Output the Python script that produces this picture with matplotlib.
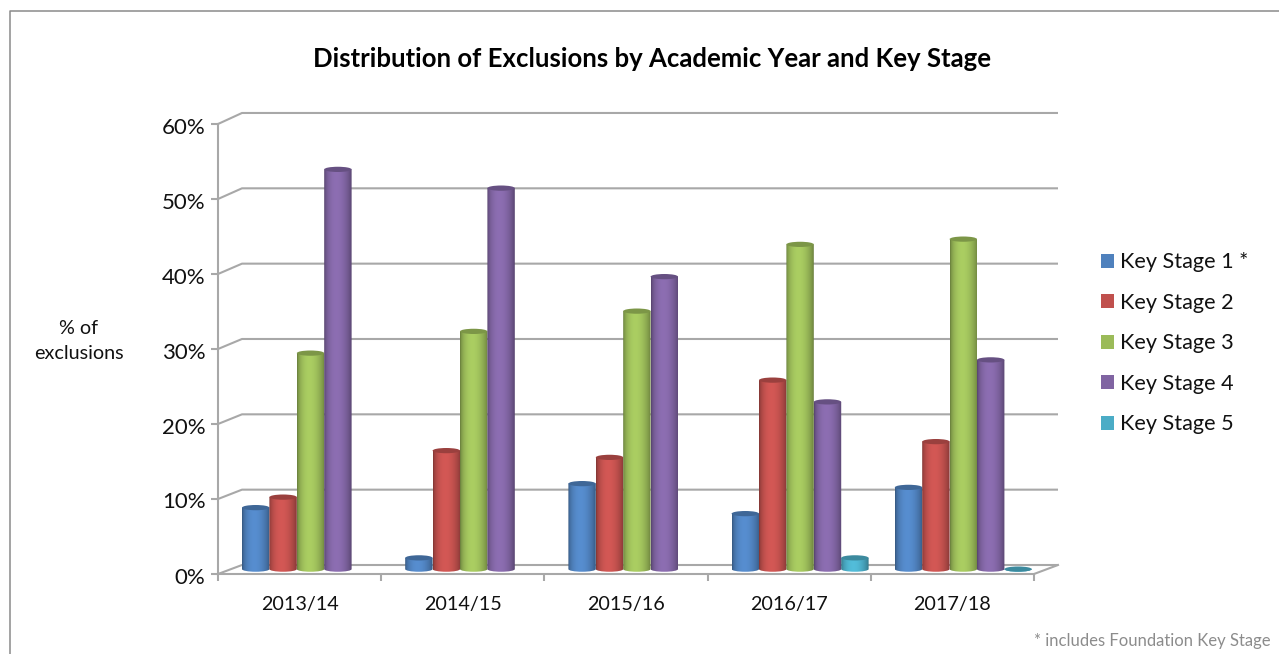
import numpy as np
import matplotlib
matplotlib.use("Agg")
from matplotlib import pyplot as plt
from matplotlib.colors import to_rgb
from matplotlib.lines import Line2D
from matplotlib.patches import Ellipse, Patch, PathPatch
from matplotlib.path import Path
from matplotlib.transforms import ScaledTranslation

years = ["2013/14", "2014/15", "2015/16", "2016/17", "2017/18"]
stages = ["Key Stage 1 *", "Key Stage 2", "Key Stage 3", "Key Stage 4", "Key Stage 5"]
ks1 = [8.2, 1.5, 11.4, 7.4, 10.9]
ks2 = [9.6, 15.8, 14.9, 25.2, 17.0]
ks3 = [28.8, 31.7, 34.4, 43.3, 44.0]
ks4 = [53.3, 50.8, 39.0, 22.3, 27.9]
ks5 = [np.nan, np.nan, np.nan, 1.5, 0.0]
yticks = [0, 10, 20, 30, 40, 50, 60]

colors = ["#4f81bd", "#c0504d", "#9bbb59", "#8064a2", "#4bacc6"]
GRID = "#a8a8a8"

plt.rcParams["font.family"] = ["Lato", "DejaVu Sans"]

W, H = 1279, 654
fig = plt.figure(figsize=(W / 100, H / 100), dpi=100, facecolor="white")

# axes runs from the front of the floor to the back wall
left, right, y0, y60 = 218, 1058, 574, 124
unit = (1034 - 218) / 5
xmax = (right - left) / unit
top_px = 112
ymax = 60 * (y0 - top_px) / (y0 - y60)
ax = fig.add_axes([left / W, 1 - y0 / H, (right - left) / W, (y0 - top_px) / H])
ax.patch.set_alpha(0)

depth = 24 / unit


def back(v):
    return v + (1.2 + 0.27 * v / 60)


for v in yticks:
    ax.plot([0, depth, xmax], [v, back(v), back(v)], color=GRID, lw=1.5, zorder=1,
            clip_on=False, solid_capstyle="butt")
ax.plot([5, xmax], [0, back(0)], color=GRID, lw=1.5, zorder=1, clip_on=False)


def cylinder(x0, w, v, color):
    base_c = np.array(to_rgb(color))
    t = np.linspace(0, 1, 40)
    shade = 0.68 + 0.42 * np.sin(np.pi * t ** 0.85) ** 0.7
    img = np.clip(base_c[None, None, :] * shade[None, :, None], 0, 1)
    base = 0.65
    eh = 0.7
    top = base + v
    ell = eh / 2
    k = 0.5523
    xc = x0 + w / 2
    r = w / 2
    # side of the cylinder with a rounded bottom
    verts = [(x0, top), (x0, base), (x0, base - ell * k), (xc - r * k, base - ell), (xc, base - ell),
             (xc + r * k, base - ell), (x0 + w, base - ell * k), (x0 + w, base), (x0 + w, top), (x0, top)]
    codes = [Path.MOVETO, Path.LINETO, Path.CURVE4, Path.CURVE4, Path.CURVE4,
             Path.CURVE4, Path.CURVE4, Path.CURVE4, Path.LINETO, Path.CLOSEPOLY]
    clip = PathPatch(Path(verts, codes), transform=ax.transData, fc="none", ec="none")
    ax.add_patch(clip)
    im = ax.imshow(img, extent=(x0, x0 + w, base - ell, top), aspect="auto", zorder=3,
                   interpolation="bilinear")
    im.set_clip_path(clip)
    cap = Ellipse((xc, top), w, eh, fc=base_c * 0.8, ec="none", zorder=3)
    ax.add_patch(cap)


series = [ks1, ks2, ks3, ks4, ks5]
bar_w = 27.4 / unit
start = (242 - 218) / unit
for s, vals in enumerate(series):
    for i, v in enumerate(vals):
        if np.isnan(v):
            continue
        cylinder(i + start + s * bar_w, bar_w, v, colors[s])

ax.set_xlim(0, xmax)
ax.set_ylim(0, ymax)

for side in ["top", "right"]:
    ax.spines[side].set_visible(False)
for side in ["left", "bottom"]:
    ax.spines[side].set_color(GRID)
    ax.spines[side].set_linewidth(1.5)
ax.spines["left"].set_bounds(0, 60)
ax.spines["bottom"].set_bounds(0, 5)

ax.set_yticks(yticks)
ax.set_yticklabels([f"{v}%" for v in yticks], fontsize=16, color="#111111")
ax.tick_params(axis="y", length=5, width=1.5, color=GRID, pad=4)
for lab in ax.get_yticklabels():
    lab.set_transform(lab.get_transform() + ScaledTranslation(0, -1.5 / 100, fig.dpi_scale_trans))
ax.set_xticks(range(6))
ax.set_xticklabels([])
ax.tick_params(axis="x", which="major", length=5, width=1.5, color=GRID)
ax.set_xticks(np.arange(5) + 0.5, years, minor=True, fontsize=14.2, color="#111111")
ax.tick_params(axis="x", which="minor", length=0, pad=16)

fig.text(652 / W, 1 - 59 / H, "Distribution of Exclusions by Academic Year and Key Stage",
         ha="center", va="center", fontsize=18.5, fontweight="bold", color="black")
fig.text(79 / W, 1 - 341 / H, "% of\nexclusions", ha="center", va="center", fontsize=14.2,
         color="#111111", linespacing=1.55)
fig.text(1271 / W, 1 - 641 / H, "* includes Foundation Key Stage", ha="right", va="center",
         fontsize=12, color="#8c8c8c")

handles = [Patch(fc=c, ec="none") for c in colors]
fig.legend(handles, stages, loc="upper left", bbox_to_anchor=(1081 / W, 1 - 233 / H),
           frameon=False, fontsize=15.6, handlelength=0.6, handleheight=0.6,
           handletextpad=0.32, labelspacing=0.945, labelcolor="#111111", borderpad=0.4)

# chart frame, cut off by the screenshot on the right and at the bottom
fig.add_artist(Line2D([10 / W, 10 / W, 1], [0, 1 - 11 / H, 1 - 11 / H], color="#8a8a8a", lw=1.1))

fig.savefig("out.png", dpi=100)
